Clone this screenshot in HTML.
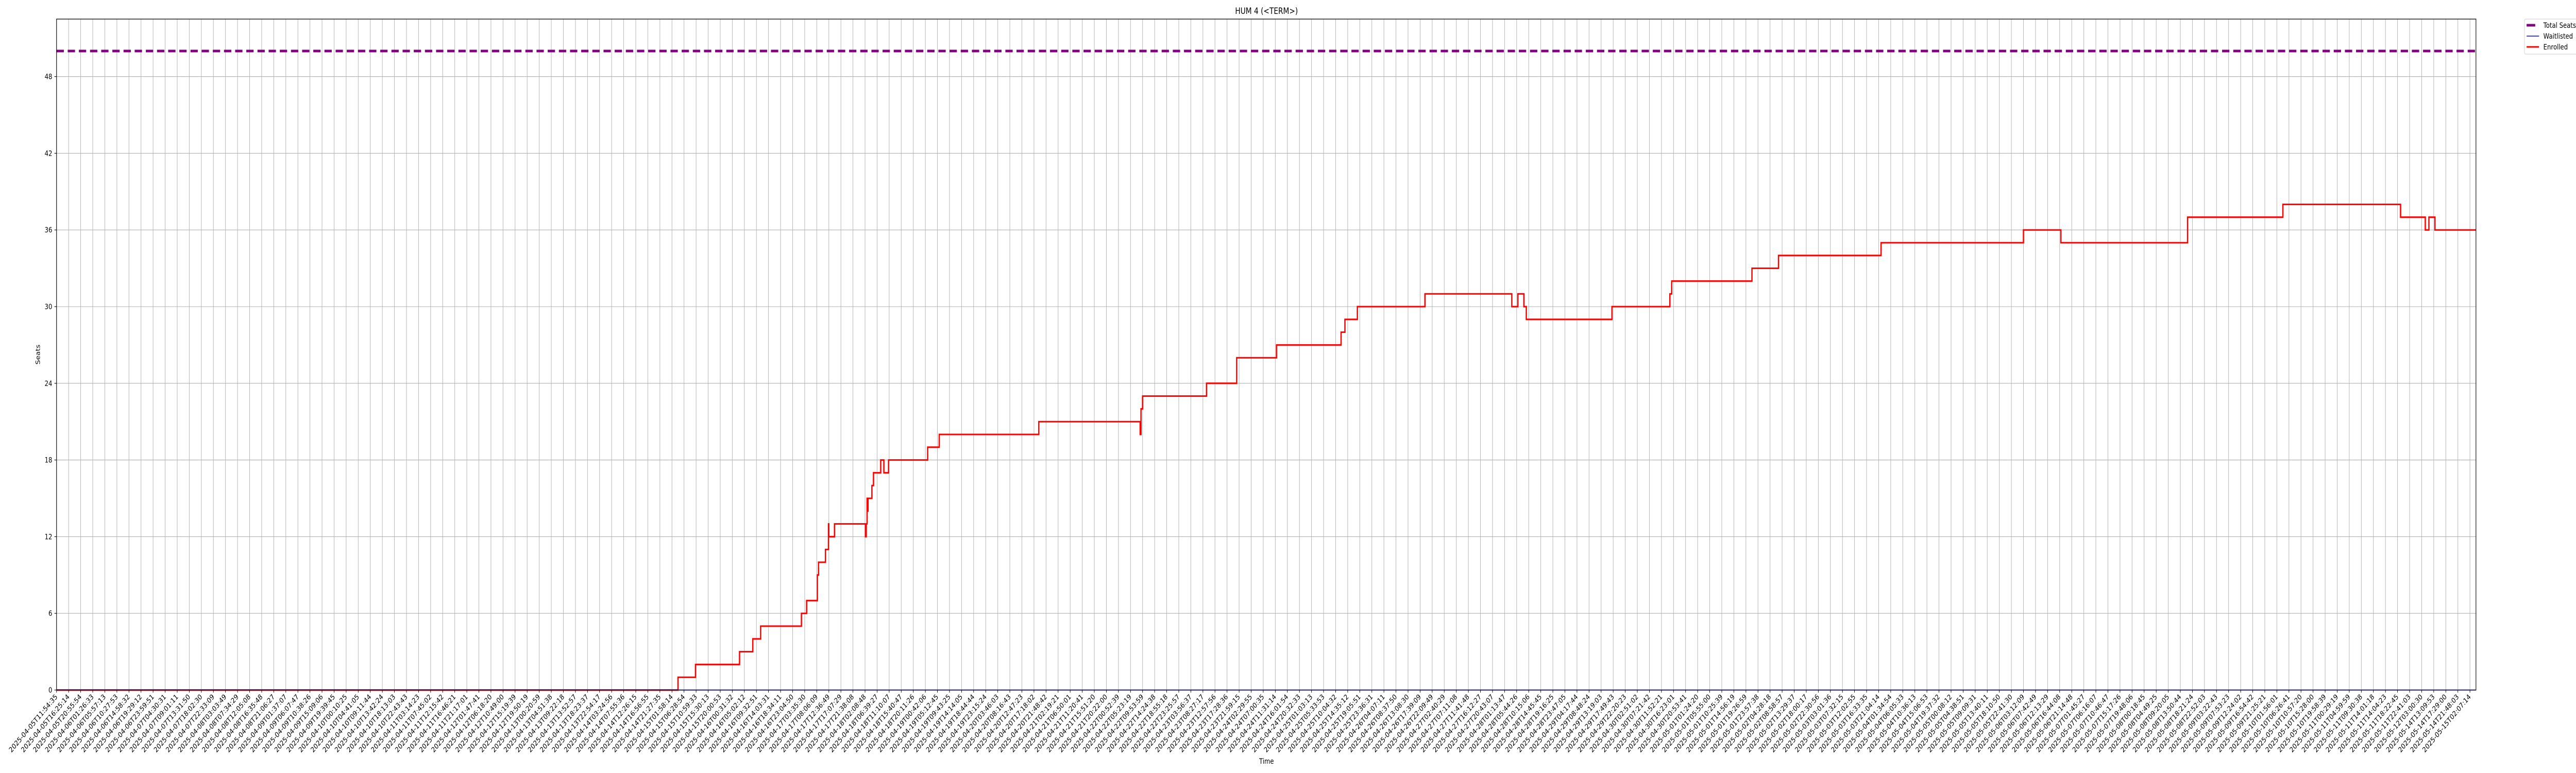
<!DOCTYPE html>
<html><head><meta charset="utf-8"><style>
html,body{margin:0;padding:0;background:#fff;width:100%;height:100%;overflow:hidden;}
#wrap{width:100vw;height:100vh;overflow:hidden;position:relative;}
svg{display:block;width:100vw;height:100vh;font-family:"DejaVu Sans","Liberation Sans",sans-serif;}
</style></head><body>
<div id="wrap">
<svg id="chart" viewBox="0 0 6000 1500" preserveAspectRatio="none" overflow="hidden" xmlns="http://www.w3.org/2000/svg">
<rect x="0" y="0" width="6000" height="1500" fill="#fff"/>
<g id="grid"></g>
<g id="series"></g>
<g id="axes"></g>
<text x="2950" y="27" font-size="16.5" text-anchor="middle">HUM 4 (&lt;TERM&gt;)</text>
<text x="2950" y="1482" font-size="14" text-anchor="middle">Time</text>
<text x="93" y="688" font-size="14" text-anchor="middle" transform="rotate(-90 93 688)">Seats</text>
<g>
<rect x="5880" y="37" width="125" height="68" rx="3" fill="#fff" stroke="#cccccc" stroke-width="1"/>
<g>
<line x1="5885" y1="49" x2="5905" y2="49" stroke="#800080" stroke-width="5"/>
<text x="5924" y="54" font-size="14">Total Seats</text></g>
<g>
<line x1="5885" y1="70" x2="5914" y2="70" stroke="#0000ff" stroke-width="1.5"/>
<text x="5924" y="75" font-size="14">Waitlisted</text></g>
<g>
<line x1="5885" y1="91" x2="5914" y2="91" stroke="#ff0000" stroke-width="3"/>
<text x="5924" y="96" font-size="14">Enrolled</text></g>
</g>
</svg>
</div>
<script>
// ---- data ----
const yTicks = [0, 6, 12, 18, 24, 30, 36, 42, 48];
const totalSeats = 50;
// x in units of tick index (0..200)
const enrolledX = [0, 51.5, 52.95, 56.6, 57.7, 58.35, 61.73, 62.16, 63.05, 63.15, 63.72, 63.97, 64.0, 64.47, 67.03, 67.1, 67.17, 67.2, 67.25, 67.57, 67.7, 68.3, 68.56, 68.95, 72.19, 73.15, 81.4, 89.8, 89.87, 90.0, 95.3, 97.8, 101.1, 106.45, 106.77, 107.8, 113.4, 120.6, 121.1, 121.6, 121.8, 128.9, 133.7, 133.85, 140.5, 142.7, 151.2, 163.0, 166.1, 176.6, 184.5, 194.25, 196.3, 196.6, 197.1];
const enrolledY = [0, 1, 2, 3, 4, 5, 6, 7, 9, 10, 11, 13, 12, 13, 12, 13, 15, 14, 15, 16, 17, 18, 17, 18, 19, 20, 21, 20, 22, 23, 24, 26, 27, 28, 29, 30, 31, 30, 31, 30, 29, 30, 31, 32, 33, 34, 35, 36, 35, 37, 38, 37, 36, 37, 36];
const waitlistX = [0, 200.5];
const waitlistY = [0, 0];
const lastTickLabels = ["2025-05-11T14:04:23","2025-05-11T18:22:45","2025-05-11T22:41:03","2025-05-12T03:00:30","2025-05-14T13:09:53","2025-05-14T17:29:00","2025-05-14T21:48:03","2025-05-15T02:07:14"];
const nTicks = 201;
const xMin = 0, xMax = 200.5, yMin = 0, yMax = 52.5;

// ---- layout ----
const L = 131.7, R = 5767, T = 37, B = 1339;
const sx = v => L + (v - xMin) / (xMax - xMin) * (R - L);
const sy = v => B - (v - yMin) / (yMax - yMin) * (B - T);
const NS = "http://www.w3.org/2000/svg";
function mk(tag, attrs, parent) {
  const el = document.createElementNS(NS, tag);
  for (const k in attrs) el.setAttribute(k, attrs[k]);
  parent.appendChild(el);
  return el;
}
const grid = document.getElementById('grid');
const axes = document.getElementById('axes');
const series = document.getElementById('series');

const start = Date.UTC(2025, 3, 5, 11, 54, 35);
const stepMs = 4.511 * 3600 * 1000;
function fmt(ms) {
  const d = new Date(ms);
  const p = n => String(n).padStart(2, '0');
  return d.getUTCFullYear() + '-' + p(d.getUTCMonth() + 1) + '-' + p(d.getUTCDate()) + 'T' + p(d.getUTCHours()) + ':' + p(d.getUTCMinutes()) + ':' + p(d.getUTCSeconds());
}
for (let i = 0; i < nTicks; i++) {
  const x = sx(i);
  const g = mk('line', {x1: x, y1: T, x2: x, y2: B, stroke: '#b0b0b0', 'stroke-width': 1.1}, grid);
  
  
  const t = mk('line', {x1: x, y1: B, x2: x, y2: B + 5, stroke: '#000', 'stroke-width': 1.1}, axes);
  
  
  const idx = i - (nTicks - lastTickLabels.length);
  const label = idx >= 0 ? lastTickLabels[idx] : fmt(start + i * stepMs);
  const tx = mk('text', {x: x + 3, y: B + 14, 'font-size': 14, 'text-anchor': 'end', transform: 'rotate(-45 ' + (x + 3) + ' ' + (B + 14) + ')'}, axes);
  tx.textContent = label;
  
  
}
yTicks.forEach(v => {
  const y = sy(v);
  const g = mk('line', {x1: L, y1: y, x2: R, y2: y, stroke: '#b0b0b0', 'stroke-width': 1.1}, grid);
  
  
  const t = mk('line', {x1: L - 5, y1: y, x2: L, y2: y, stroke: '#000', 'stroke-width': 1.1}, axes);
  
  
  const tx = mk('text', {x: L - 10, y: y + 5, 'font-size': 14, 'text-anchor': 'end'}, axes);
  tx.textContent = v;
  
  
});
const frame = mk('rect', {x: L, y: T, width: R - L, height: B - T, fill: 'none', stroke: '#000', 'stroke-width': 1.3}, axes);



function stepPath(xs, ys) {
  let d = 'M' + sx(xs[0]) + ' ' + sy(ys[0]);
  for (let i = 1; i < xs.length; i++) {
    d += ' H' + sx(xs[i]) + ' V' + sy(ys[i]);
  }
  d += ' H' + sx(xMax);
  return d;
}
const ts = mk('line', {x1: sx(xMin), y1: sy(totalSeats), x2: sx(xMax), y2: sy(totalSeats), stroke: '#800080', 'stroke-width': 5, 'stroke-dasharray': '17 9'}, series);


const en = mk('path', {d: stepPath(enrolledX, enrolledY), fill: 'none', stroke: '#ff0000', 'stroke-width': 3, 'stroke-linejoin': 'miter'}, series);


const wl = mk('path', {d: stepPath(waitlistX, waitlistY), fill: 'none', stroke: '#0000ff', 'stroke-width': 1.5}, series);


</script>
</body></html>
